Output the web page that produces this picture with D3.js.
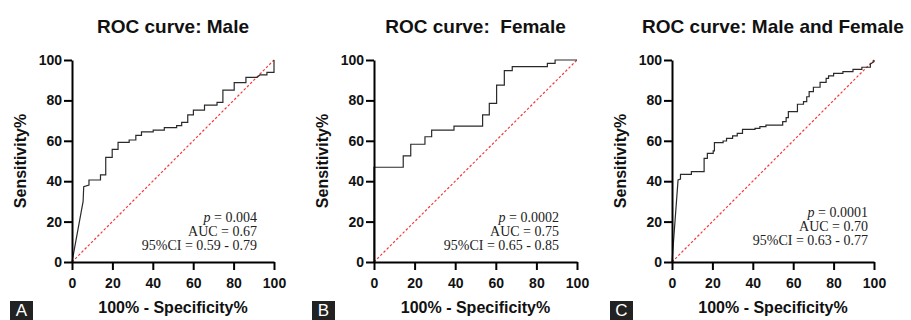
<!DOCTYPE html>
<html>
<head>
<meta charset="utf-8">
<script src="https://cdn.jsdelivr.net/npm/d3@7"></script>
<style>
  html, body { margin: 0; padding: 0; background: #fff; }
  svg { display: block; }
</style>
</head>
<body>
<svg id="chart" width="911" height="320"></svg>
<script>
// ---------- data ----------
const panelTitles = ["ROC curve: Male", "ROC curve:\u00a0 Female", "ROC curve: Male and Female"];
const panelLetters = ["A", "B", "C"];
const pValues = ["0.004", "0.0002", "0.0001"];
const aucValues = ["0.67", "0.75", "0.70"];
const ciLow = ["0.59", "0.65", "0.63"];
const ciHigh = ["0.79", "0.85", "0.77"];
const tickValues = [0, 20, 40, 60, 80, 100];

const maleFpr = [0, 5.5, 5.8, 8.4, 8.4, 14.1, 14.1, 16.7, 16.7, 19.9, 19.9, 22.8, 22.8, 28.3, 28.3, 31.6, 31.6, 34.4, 34.4, 40.2, 40.2, 45.7, 45.7, 51.8, 51.8, 54.3, 54.3, 57.3, 57.3, 60.1, 60.1, 65.6, 65.6, 71.8, 71.8, 74.7, 74.7, 80.3, 80.3, 86.1, 86.1, 91.6, 93.0, 96.5, 96.5, 100, 100];
const maleTpr = [0, 30.0, 37.3, 38.1, 40.6, 40.6, 43.1, 43.1, 51.8, 51.8, 55.8, 55.8, 59.2, 59.2, 60.4, 60.4, 62.7, 62.7, 64.4, 64.4, 65.3, 65.3, 66.5, 66.5, 67.5, 67.5, 69.1, 69.1, 72.8, 72.8, 75.2, 75.2, 77.7, 77.7, 79.0, 79.0, 85.1, 85.1, 88.8, 88.8, 91.4, 91.4, 92.6, 92.6, 93.9, 93.9, 100];

const femaleFpr = [0, 0, 14.4, 14.4, 18.1, 18.1, 25.1, 25.1, 28.4, 28.4, 39.4, 39.4, 53.5, 53.5, 56.8, 56.8, 60.4, 60.4, 64.2, 64.2, 68.1, 68.1, 85.4, 85.4, 89.2, 89.2, 100];
const femaleTpr = [0, 46.9, 46.9, 52.5, 52.5, 58.3, 58.3, 62.0, 62.0, 65.3, 65.3, 67.3, 67.3, 72.8, 72.8, 78.5, 78.5, 87.6, 87.6, 94.7, 94.7, 96.7, 96.7, 98.3, 98.3, 100, 100];

const allFpr = [0, 3.0, 4.2, 4.2, 9.6, 9.6, 15.9, 15.9, 17.5, 17.5, 20.4, 20.4, 21.0, 21.0, 25.3, 25.3, 27.0, 27.0, 30.0, 30.0, 32.3, 32.3, 34.9, 34.9, 41.1, 41.1, 43.5, 43.5, 46.5, 46.5, 54.8, 54.8, 56.5, 56.5, 57.6, 57.6, 62.1, 62.1, 65.1, 65.1, 66.7, 66.7, 67.9, 67.9, 70.0, 70.0, 73.3, 73.3, 76.3, 76.3, 77.5, 77.5, 80.0, 80.0, 84.6, 84.6, 89.6, 89.6, 94.0, 94.0, 98.2, 98.2, 100, 100];
const allTpr = [0, 40.6, 41.0, 43.4, 43.4, 44.7, 44.7, 51.3, 51.3, 53.8, 53.8, 55.0, 55.0, 59.1, 59.1, 59.9, 59.9, 61.2, 61.2, 62.4, 62.4, 63.7, 63.7, 65.7, 65.7, 66.2, 66.2, 67.0, 67.0, 67.8, 67.8, 69.5, 69.5, 71.5, 71.5, 74.4, 74.4, 78.1, 78.1, 79.4, 79.4, 81.8, 81.8, 84.3, 84.3, 86.5, 86.5, 88.9, 88.9, 90.9, 90.9, 92.1, 92.1, 93.4, 93.4, 94.2, 94.2, 95.4, 95.4, 96.4, 96.4, 98.0, 99.2, 100];

const curves = [
  { fpr: maleFpr, tpr: maleTpr },
  { fpr: femaleFpr, tpr: femaleTpr },
  { fpr: allFpr, tpr: allTpr }
];

// ---------- layout ----------
const panels = [
  { x0: 72, x1: 274, textX: 257, textY: 222 },
  { x0: 374, x1: 577, textX: 559, textY: 222 },
  { x0: 672, x1: 874, textX: 868, textY: 217 }
];
const yTop = 60, yBot = 262;
const boldFont = "'Liberation Sans', Arial, sans-serif";
const serifFont = "'Liberation Serif', 'Times New Roman', serif";

const svg = d3.select("#chart");

panels.forEach((p, i) => {
  const xs = d3.scaleLinear().domain([0, 100]).range([p.x0, p.x1]);
  const ys = d3.scaleLinear().domain([0, 100]).range([yBot, yTop]);
  const g = svg.append("g");

  // diagonal reference line
  g.append("line")
    .attr("x1", xs(0)).attr("y1", ys(0))
    .attr("x2", xs(100)).attr("y2", ys(100))
    .attr("stroke", "#f23a3a").attr("stroke-width", 1.2)
    .attr("stroke-dasharray", "2.5,2");

  // ROC curve
  const pts = curves[i].fpr.map((f, k) => [f, curves[i].tpr[k]]);
  g.append("path")
    .datum(pts)
    .attr("fill", "none")
    .attr("stroke", "#2a2a2a")
    .attr("stroke-width", 1.2)
    .attr("d", d3.line().x(d => xs(d[0])).y(d => ys(d[1])));

  // axes
  const xAxis = g.append("g")
    .attr("transform", `translate(0,${yBot})`)
    .call(d3.axisBottom(xs).tickValues(tickValues).tickSize(8).tickSizeOuter(0));
  const yAxis = g.append("g")
    .attr("transform", `translate(${p.x0},0)`)
    .call(d3.axisLeft(ys).tickValues(tickValues).tickSize(8).tickPadding(2).tickSizeOuter(0));

  [xAxis, yAxis].forEach(ax => {
    ax.select(".domain").attr("stroke", "#000").attr("stroke-width", 2);
    ax.selectAll(".tick line").attr("stroke", "#000").attr("stroke-width", 2);
    ax.selectAll("text")
      .attr("fill", "#111")
      .style("font-family", boldFont)
      .style("font-weight", "bold")
      .style("font-size", "14px");
  });
  xAxis.selectAll("text").attr("y", 26).attr("dy", 0);

  // title
  svg.append("text")
    .attr("x", (p.x0 + p.x1) / 2).attr("y", 33)
    .attr("text-anchor", "middle")
    .style("font-family", boldFont).style("font-weight", "bold").style("font-size", "19px")
    .attr("fill", "#111")
    .text(panelTitles[i]);

  // y axis title
  svg.append("text")
    .attr("transform", `translate(${p.x0 - 46.5},${(yTop + yBot) / 2}) rotate(-90)`)
    .attr("text-anchor", "middle")
    .style("font-family", boldFont).style("font-weight", "bold").style("font-size", "16px")
    .attr("fill", "#111")
    .text("Sensitivity%");

  // x axis title
  svg.append("text")
    .attr("x", (p.x0 + p.x1) / 2).attr("y", 313)
    .attr("text-anchor", "middle")
    .style("font-family", boldFont).style("font-weight", "bold").style("font-size", "16px")
    .attr("fill", "#111")
    .text("100% - Specificity%");

  // annotation
  const ann = svg.append("g")
    .style("font-family", serifFont).style("font-size", "14px").attr("fill", "#222");
  const t1 = ann.append("text").attr("x", p.textX).attr("y", p.textY).attr("text-anchor", "end");
  t1.append("tspan").style("font-style", "italic").text("p");
  t1.append("tspan").text(" = " + pValues[i]);
  ann.append("text").attr("x", p.textX).attr("y", p.textY + 14).attr("text-anchor", "end")
    .text("AUC = " + aucValues[i]);
  ann.append("text").attr("x", p.textX).attr("y", p.textY + 28).attr("text-anchor", "end")
    .text("95%CI = " + ciLow[i] + " - " + ciHigh[i]);

  // panel letter
  const bx = p.x0 - 62;
  svg.append("rect")
    .attr("x", bx).attr("y", 301).attr("width", 23).attr("height", 19)
    .attr("fill", "#222");
  svg.append("text")
    .attr("x", bx + 11.5).attr("y", 316)
    .attr("text-anchor", "middle")
    .style("font-family", boldFont).style("font-size", "17px")
    .attr("fill", "#fff")
    .text(panelLetters[i]);
});
</script>
</body>
</html>
